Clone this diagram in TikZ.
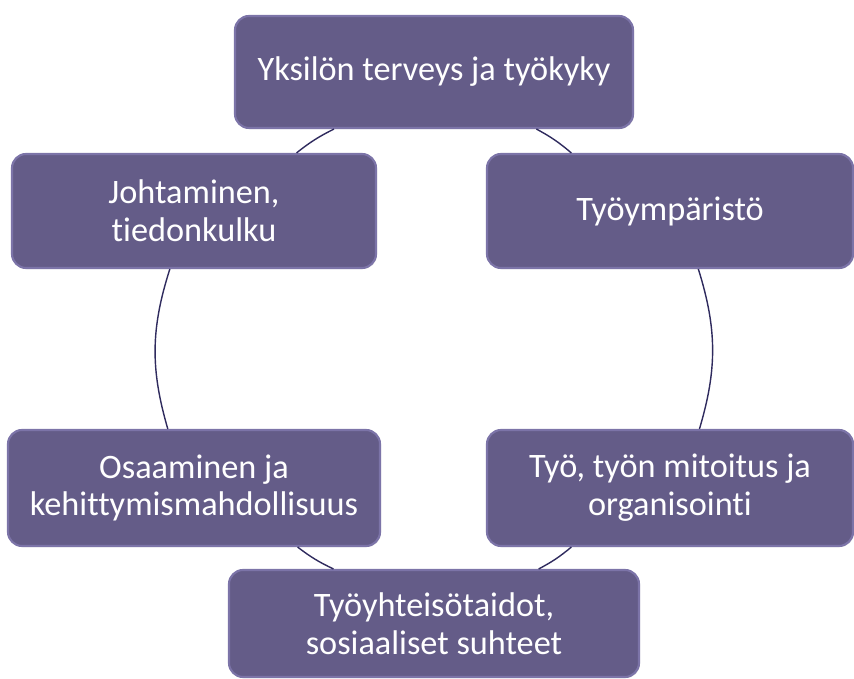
\documentclass[tikz,border=0pt]{standalone}
\usepackage{fontspec}
\setmainfont{Carlito}[Ligatures={NoCommon}]
\usepackage{xcolor}
\usepackage{tikz}
\usetikzlibrary{positioning, calc, shadows}
\definecolor{cyclefill}{HTML}{645C88}
\definecolor{cycleedge}{HTML}{7C74A8}
\definecolor{cycleline}{HTML}{2F2B5E}

\begin{document}
\begin{tikzpicture}[
    box/.style={rectangle, rounded corners=8pt, align=center, text=white,
                font=\fontsize{19.5}{21.5}\selectfont, line width=1.2pt,
                drop shadow={shadow xshift=0.6pt, shadow yshift=-0.6pt, fill=black!18}},
    cyclebox/.style={box, draw=cycleedge, fill=cyclefill, minimum height=2.28cm},
    link/.style={draw=cycleline, line width=0.8pt},
]
  \useasboundingbox (0,0) rectangle (17.08,13.56);

  % Top and bottom of the cycle
  \node[cyclebox, minimum width=7.96cm, minimum height=2.24cm] (yks) at (8.68,12.12) {Yksilön terveys ja työkyky};
  \node[cyclebox, minimum width=8.20cm, minimum height=2.14cm] (yht) at (8.68,1.09) {Työyhteisötaidot,\\sosiaaliset suhteet};

  % Left side
  \node[cyclebox, minimum width=7.28cm] (joh) at (3.88,9.34) {Johtaminen,\\tiedonkulku};
  \node[cyclebox, minimum width=7.44cm, minimum height=2.32cm] (osa) at (3.88,3.80) {Osaaminen ja\\kehittymismahdollisuus};

  % Right side
  \node[cyclebox, minimum width=7.32cm] (ymp) at (13.40,9.34) {Työympäristö};
  \node[cyclebox, minimum width=7.32cm, minimum height=2.32cm] (tyo) at (13.40,3.80) {Työ, työn mitoitus ja\\organisointi};

  % Connecting arcs
  \draw[link] ($(yks.south west)!0.25!(yks.south east)$) to[bend right=6] ($(joh.north west)!0.78!(joh.north east)$);
  \draw[link] ($(yks.south west)!0.756!(yks.south east)$) to[bend left=6] ($(ymp.north west)!0.232!(ymp.north east)$);
  \draw[link] ($(joh.south west)!0.434!(joh.south east)$) to[bend right=17] ($(osa.north west)!0.43!(osa.north east)$);
  \draw[link] ($(ymp.south west)!0.577!(ymp.south east)$) to[bend left=17] ($(tyo.north west)!0.58!(tyo.north east)$);
  \draw[link] ($(osa.south west)!0.777!(osa.south east)$) to[bend right=6] ($(yht.north west)!0.256!(yht.north east)$);
  \draw[link] ($(tyo.south west)!0.232!(tyo.south east)$) to[bend left=6] ($(yht.north west)!0.754!(yht.north east)$);
\end{tikzpicture}
\end{document}
